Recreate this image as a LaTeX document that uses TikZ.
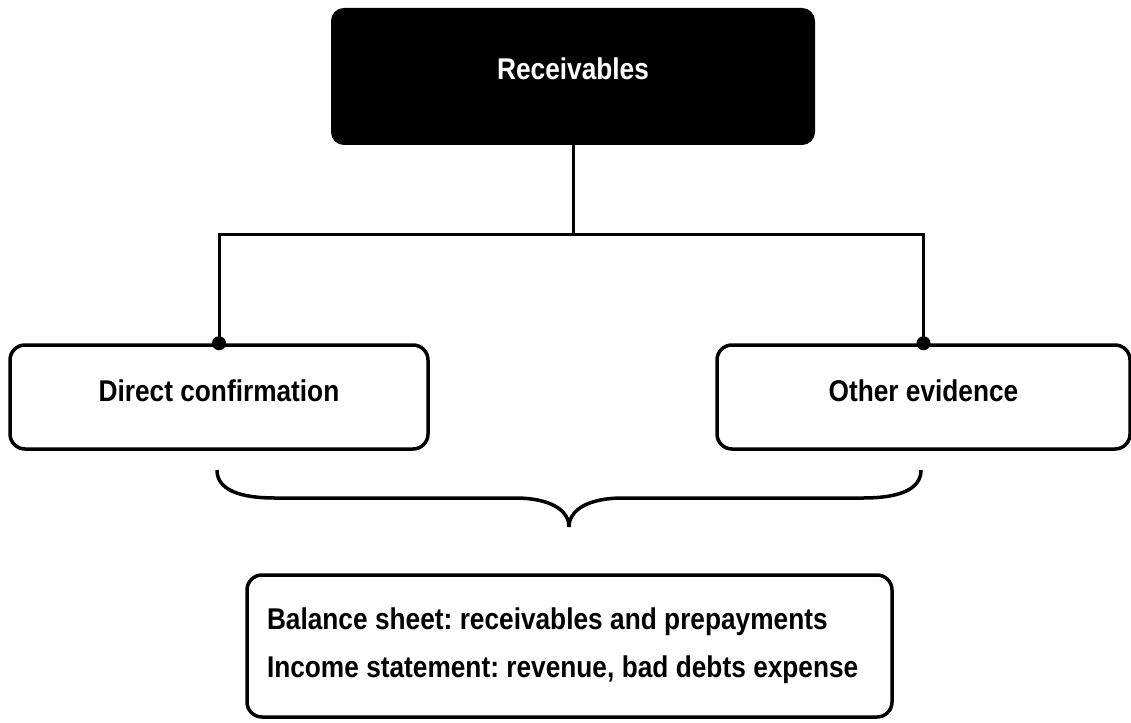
\documentclass[tikz,border=0pt]{standalone}
\usepackage{fontspec}
\setmainfont{Liberation Sans}[FakeStretch=0.875]
\usetikzlibrary{positioning}
\frenchspacing

\begin{document}
\begin{tikzpicture}[
 x=1pt, y=-1pt,
 head/.style={rectangle, draw, fill=black, text=white, rounded corners=12pt, line width=2pt, minimum width=482pt, minimum height=135pt, text height=21pt, text depth=14pt, font=\fontsize{30}{34}\selectfont\bfseries},
 branch/.style={rectangle, draw, rounded corners=15pt, line width=3.5pt, minimum height=104pt, text height=22pt, text depth=14pt, font=\fontsize{30}{34}\selectfont\bfseries},
 summary/.style={rectangle, draw, rounded corners=15pt, line width=3.5pt, minimum width=645pt, minimum height=142pt, text width=605pt, inner xsep=20pt, align=left, font=\fontsize{30}{48}\selectfont\bfseries},
 conn/.style={line width=3pt},
 dot/.style={circle, fill=black, inner sep=0pt, minimum size=14pt},
]
\useasboundingbox (0,0) rectangle (1131,722);

\node[head] (rec) at (573,76.5) {Receivables};
\node[branch, minimum width=418pt] (direct) at (219,397) {Direct confirmation};
\node[branch, minimum width=413pt] (other) at (923.5,397) {Other evidence};
\node[summary] (stmt) at (569.5,646) {\spaceskip=7.4pt Balance sheet: receivables and prepayments\\Income statement: revenue, bad debts expense};

\coordinate (jn) at (573,234);

% tree lines
\draw[conn] (rec.south) -- (jn);
\draw[conn] (direct.north) |- (jn) -| (other.north);
\node[dot] at (direct.north) {};
\node[dot] at (other.north) {};

% brace under the two branches
\draw[line width=3.5pt] (217,470) .. controls (217,490) and (240,498) .. (275,498) -- (515,498)
  .. controls (550,498) and (569,510) .. (569,527)
  .. controls (569,510) and (588,498) .. (623,498) -- (863,498)
  .. controls (898,498) and (921,490) .. (921,470);

\end{tikzpicture}
\end{document}
